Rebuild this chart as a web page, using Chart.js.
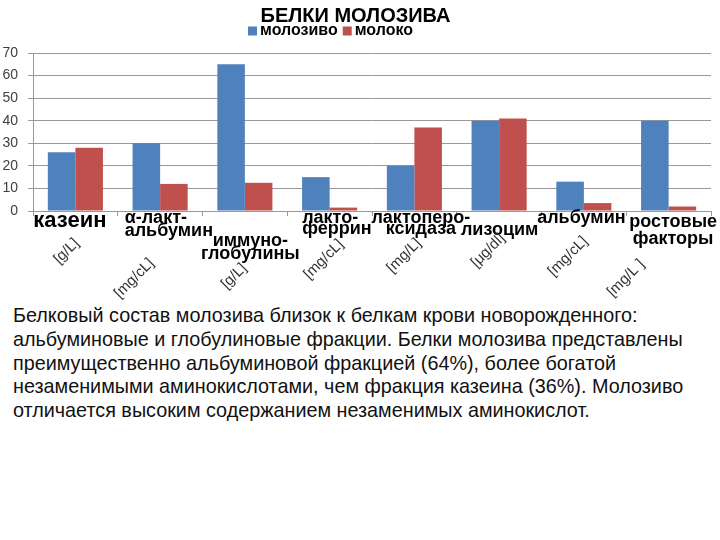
<!DOCTYPE html>
<html lang="ru">
<head>
    <meta charset="UTF-8">
    <title>Белки молозива</title>
    <style>
        body, html {
            margin: 0;
            width: 720px;
            height: 540px;
            background: white;
            font-family: "Liberation Sans", Arial, sans-serif;
            overflow: hidden;
        }
        #chartBox {
            position: absolute;
            left: 0;
            top: 0;
            width: 720px;
            height: 300px;
        }
        #note {
            position: absolute;
            left: 13px;
            top: 304px;
            margin: 0;
            font-size: 19.8px;
            line-height: 23.75px;
            color: #111;
            white-space: nowrap;
        }
    </style>
    <script src="https://cdn.jsdelivr.net/npm/chart.js"></script>
</head>
<body>
    <div id="chartBox"><canvas id="proteinChart" width="720" height="300"></canvas></div>

    <p id="note">Белковый состав молозива близок к белкам крови новорожденного:<br>
альбуминовые и глобулиновые фракции. Белки молозива представлены<br>
преимущественно альбуминовой фракцией (64%), более богатой<br>
незаменимыми аминокислотами, чем фракция казеина (36%). Молозиво<br>
отличается высоким содержанием незаменимых аминокислот.</p>

    <script>
        // chart data
        const categories = [
            ['казеин'],
            ['α-лакт-', 'альбумин'],
            ['иммуно-', 'глобулины'],
            ['лакто-', 'феррин'],
            ['лактоперо-', 'ксидаза'],
            ['лизоцим'],
            ['альбумин'],
            ['ростовые', 'факторы']
        ];
        const units = ['[g/L]', '[mg/cL]', '[g/L]', '[mg/cL]', '[mg/L]', '[μg/dl]', '[mg/cL]', '[mg/L ]'];
        const colostrum = [26, 30, 65, 15, 20, 40, 13, 40];
        const milk = [28, 12, 12.5, 1.5, 37, 41, 3.5, 2];
        const seriesNames = ['молозиво', 'молоко'];
        const yTicks = [0, 10, 20, 30, 40, 50, 60, 70];

        // where each category name / unit sits relative to its tick (px)
        const nameLayout = [
            { dx: -5.5, ys: [10], align: 'center', size: 22 },
            { dx: -35.5, ys: [7, 20], align: 'left', size: 18 },
            { dx: 5.5, ys: [30, 43], align: 'center', size: 18 },
            { dx: -27.5, ys: [7, 18], align: 'left', size: 18 },
            { dx: 6.5, ys: [7, 18], align: 'center', size: 18 },
            { dx: 0.5, ys: [19], align: 'center', size: 18 },
            { dx: -2.5, ys: [7], align: 'center', size: 18 },
            { dx: 4.5, ys: [11, 28], align: 'center', size: 18 }
        ];
        const unitLayout = [
            [4.5, 26], [-5.5, 46], [2.5, 51], [14.5, 27],
            [7.5, 26], [6.5, 21], [4.5, 24], [-23.5, 47]
        ];

        const labelsPlugin = {
            id: 'labelsPlugin',
            afterDraw(chart) {
                const ctx = chart.ctx;
                const xs = chart.scales.x;
                const bottom = chart.chartArea.bottom;
                ctx.save();

                // legend
                let lx = chart.width / 2 - 112;
                const ly = 31;
                ctx.font = 'bold 16px "Liberation Sans", Arial, sans-serif';
                ctx.textBaseline = 'middle';
                ctx.textAlign = 'left';
                chart.data.datasets.forEach(ds => {
                    ctx.fillStyle = ds.backgroundColor;
                    ctx.fillRect(lx, ly - 4.5, 9, 9);
                    ctx.fillStyle = '#000';
                    ctx.fillText(ds.label, lx + 12, ly);
                    lx += 12 + ctx.measureText(ds.label).width + 5;
                });

                // category names
                ctx.fillStyle = '#000';
                categories.forEach((lines, i) => {
                    const lay = nameLayout[i];
                    const x = xs.getPixelForValue(i) + lay.dx;
                    ctx.font = 'bold ' + lay.size + 'px "Liberation Sans", Arial, sans-serif';
                    ctx.textAlign = lay.align;
                    lines.forEach((t, j) => {
                        ctx.fillText(t, x, bottom + lay.ys[j]);
                    });
                });

                // units, rotated
                ctx.font = '15px "Liberation Sans", Arial, sans-serif';
                ctx.fillStyle = '#333';
                ctx.textAlign = 'right';
                units.forEach((u, i) => {
                    const x = xs.getPixelForValue(i) + unitLayout[i][0] - 3;
                    const y = bottom + unitLayout[i][1] + 4;
                    ctx.save();
                    ctx.translate(x, y);
                    ctx.rotate(-Math.PI / 4);
                    ctx.fillText(u, 0, 0);
                    ctx.restore();
                });
                ctx.restore();
            }
        };

        const ctx = document.getElementById('proteinChart').getContext('2d');
        new Chart(ctx, {
            type: 'bar',
            data: {
                labels: categories,
                datasets: [{
                    label: seriesNames[0],
                    data: colostrum,
                    backgroundColor: '#4F81BD'
                }, {
                    label: seriesNames[1],
                    data: milk,
                    backgroundColor: '#C0504D'
                }]
            },
            options: {
                responsive: false,
                animation: false,
                categoryPercentage: 0.65,
                barPercentage: 1.0,
                layout: { padding: { left: 0, right: 9, top: 0, bottom: 0 } },
                plugins: {
                    legend: { display: false },
                    tooltip: { enabled: false },
                    title: {
                        display: true,
                        text: 'БЕЛКИ МОЛОЗИВА',
                        color: '#000',
                        font: { family: '"Liberation Sans", Arial, sans-serif', size: 20, weight: 'bold' },
                        padding: { top: 4, bottom: 25 }
                    }
                },
                scales: {
                    x: {
                        ticks: { display: false },
                        grid: { offset: true, drawOnChartArea: false, tickLength: 5, color: '#999' },
                        border: { color: '#999' },
                        afterFit(s) { s.height = 89; }
                    },
                    y: {
                        min: 0,
                        max: 70,
                        afterBuildTicks(s) { s.ticks = yTicks.map(v => ({ value: v })); },
                        ticks: {
                            padding: 10,
                            color: '#404040',
                            font: { family: '"Liberation Sans", Arial, sans-serif', size: 14 }
                        },
                        grid: { color: '#999', tickLength: 5 },
                        border: { color: '#999' },
                        afterFit(s) { s.width = 33; }
                    }
                }
            },
            plugins: [labelsPlugin]
        });
    </script>
</body>
</html>
